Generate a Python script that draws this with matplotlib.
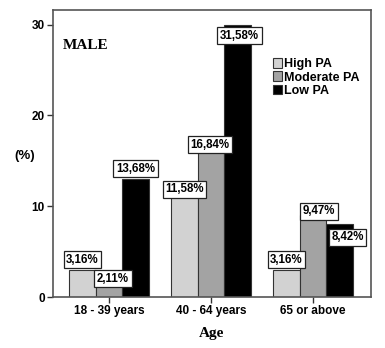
import matplotlib
matplotlib.use("Agg")
import matplotlib.pyplot as plt
import numpy as np

# counts per activity level in each age group (n = 95 men)
groups = ['18 - 39 years', '40 - 64 years', '65 or above']
series = ['High PA', 'Moderate PA', 'Low PA']
high_pa = [3, 11, 3]
moderate_pa = [2, 16, 9]
low_pa = [13, 30, 8]
total = 95
yticks = [0, 10, 20, 30]

colors = ['#d2d2d2', '#a3a3a3', '#000000']
# label box nudges (pixels): dx, dy of box centre from the bar top
nudges = [
    [(0, 10), (4, 0), (0, 10)],
    [(0, 8), (-1, 7), (2, -11)],
    [(0, 10), (6, 4), (8, -13)],
]

SANS = 'Liberation Sans'
SERIF = 'Liberation Serif'

fig = plt.figure(figsize=(3.85, 3.48), dpi=100)
ax = fig.add_axes([53/385, 1 - 297/348, 318/385, 287/348])

x = np.arange(len(groups))
w = 0.26
data = [high_pa, moderate_pa, low_pa]
for i, (vals, name) in enumerate(zip(data, series)):
    pos = x + (i - 1) * w
    ax.bar(pos, vals, w, color=colors[i], edgecolor='#333333', linewidth=0.8, label=name)
    for j, v in enumerate(vals):
        pct = v / total * 100
        lab = ('%.2f%%' % pct).replace('.', ',')
        dx, dy = nudges[j][i]
        ax.annotate(lab, (pos[j], v), xytext=(dx, dy), textcoords='offset pixels',
                    ha='center', va='center', fontsize=8.3, fontweight='bold', family=SANS,
                    bbox=dict(boxstyle='square,pad=0.22', fc='white', ec='#222222', lw=0.9))

ax.set_xlim(-0.549, 2.569)
ax.set_ylim(0, 31.6)
ax.set_xticks(x)
ax.set_xticklabels(groups, fontsize=8.5, fontweight='bold', family=SANS)
ax.set_yticks(yticks)
ax.set_yticklabels([str(t) for t in yticks], fontsize=8.5, fontweight='bold', family=SANS)
ax.tick_params(direction='out', length=4, width=1, color='#333333', pad=2)
for s in ax.spines.values():
    s.set_color('#555555')
    s.set_linewidth(1.2)

ax.set_xlabel('Age', fontsize=11, fontweight='bold', family=SERIF, labelpad=7)
ax.set_ylabel('(%)', fontsize=9.5, fontweight='bold', family=SANS, rotation=0, labelpad=14)
ax.yaxis.set_label_coords(-0.09, 0.47)

ax.text(0.03, 0.865, 'MALE', transform=ax.transAxes, fontsize=11, fontweight='bold', family=SERIF)

ax.legend(loc='upper left', bbox_to_anchor=(0.675, 0.85), frameon=False,
          prop={'family': SANS, 'weight': 'bold', 'size': 9},
          handlelength=0.75, handleheight=0.8, handletextpad=0.15, labelspacing=0.1, borderaxespad=0)

fig.savefig('out.png', dpi=100)
